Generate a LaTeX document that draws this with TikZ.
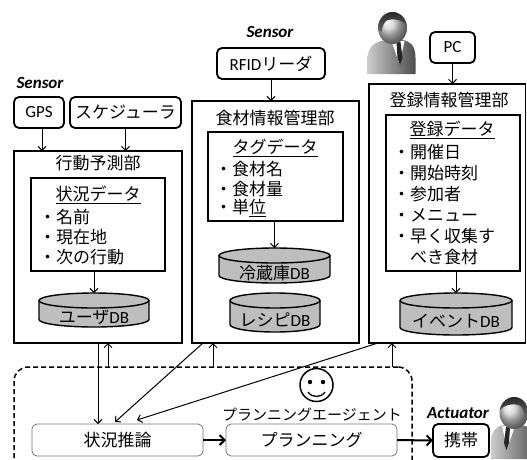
\documentclass[tikz,border=0pt]{standalone}
\usepackage{fontspec}
\setmainfont{Carlito}
\newfontfamily\jp{Noto Sans CJK JP}
\usetikzlibrary{arrows.meta}

\definecolor{dbgray}{RGB}{190,190,190}

\tikzset{
  panel/.style={draw, line width=1.8pt, inner sep=0pt, outer sep=0pt},
  devbox/.style={draw, line width=1.8pt, rounded corners=5pt, inner sep=0pt, outer sep=0pt,
    font=\fontsize{17}{17}\selectfont},
  procbox/.style={draw=black!55, line width=0.8pt, rounded corners=5pt, fill=white,
    inner sep=0pt, outer sep=0pt, font=\jp\fontsize{17}{17}\selectfont},
  agentbox/.style={draw, line width=1.5pt, dash pattern=on 5pt off 3pt, rounded corners=14pt,
    inner sep=0pt, outer sep=0pt},
  lbl/.style={inner sep=0pt, font=\jp\fontsize{17}{17}\selectfont},
  tag/.style={inner sep=0pt, font=\bfseries\itshape\fontsize{17}{17}\selectfont},
  dbfill/.style={fill=dbgray},
  dbline/.style={draw, line width=1.4pt},
  arr/.style={line width=1pt, -{Straight Barb[length=4pt, width=8pt]}},
  bigarr/.style={line width=2pt, -{Straight Barb[length=5pt, width=10pt]}},
  person/.pic={
    % suit
    \shade[left color=black!20, right color=black!70]
      (-25,46) -- (-25,30) .. controls (-25,18) and (-16,13) .. (-6,12) -- (10,12)
      .. controls (18,13) and (23,18) .. (23,30) -- (23,46) -- cycle;
    % shirt and tie
    \fill[white] (-1,13) -- (12,13) -- (7,36) -- cycle;
    \fill[black!85] (4,14) -- (8,14) -- (10,30) -- (7.5,37) -- (5,30) -- cycle;
    % face
    \shade[ball color=black!18] (0,0) ellipse[x radius=14.5, y radius=16];
    % hair
    \shade[top color=black!85, bottom color=black!60]
      (175:14.5 and 16) arc[start angle=175, end angle=350, x radius=14.5, y radius=16]
      .. controls (10,-8) and (2,-10) .. (-5,-8) .. controls (-9,-6) and (-10,-1) .. (-11,4) -- cycle;
  }
}

% database cylinder: name, centre x, top y, bottom y, half width, label
\newcommand\dbcyl[6]{%
  \pgfmathsetmacro\cylL{#2-#5}%
  \pgfmathsetmacro\cylR{#2+#5}%
  \pgfmathsetmacro\cylT{#3+7.5}%
  \pgfmathsetmacro\cylB{#4-7.5}%
  \pgfmathsetmacro\cylM{(#3+15+#4)/2}%
  \fill[dbfill] (\cylL,\cylT) -- (\cylL,\cylB)
    arc[start angle=180, end angle=0, x radius=#5, y radius=7.5] -- (\cylR,\cylT)
    arc[start angle=0, end angle=-180, x radius=#5, y radius=7.5] -- cycle;
  \draw[dbline] (\cylL,\cylT) -- (\cylL,\cylB)
    arc[start angle=180, end angle=0, x radius=#5, y radius=7.5] -- (\cylR,\cylT);
  \draw[dbline] (#2,\cylT) ellipse[x radius=#5, y radius=7.5];
  \coordinate (#1top) at (#2,#3);
  \node[lbl] (#1) at (#2,\cylM) {#6};
}

\begin{document}
\begin{tikzpicture}[x=1pt, y=-1pt]
\path[use as bounding box, clip] (0,0) rectangle (527,459);

% planning agent frame
\node[agentbox, minimum width=398pt, minimum height=113pt] (agent) at (213,423.5) {};

% ---- behaviour prediction ----
\node[tag] (sensL) at (40,83) {Sensor};
\node[devbox, minimum width=50pt, minimum height=31pt] (gps) at (39,112.5) {GPS};
\node[devbox, minimum width=111pt, minimum height=31pt, font=\jp\fontsize{17}{17}\selectfont] (sched) at (125.5,112.5) {スケジューラ};
\node[panel, minimum width=168pt, minimum height=192pt] (act) at (98,247) {};
\node[lbl] (acttitle) at (98,163) {行動予測部};
\node[panel, minimum width=134pt, minimum height=93pt] (actdata) at (98,224.5) {};
\node[lbl] (acthead) at (98,195) {\underline{状況データ}};
\node[lbl, anchor=west] (a1) at (39,217) {・名前};
\node[lbl, anchor=west] (a2) at (39,237) {・現在地};
\node[lbl, anchor=west] (a3) at (39,257) {・次の行動};
\dbcyl{udb}{94}{293}{327}{55}{ユーザ{\rmfamily DB}}

% ---- food information ----
\node[tag] (sensM) at (270,32) {Sensor};
\node[devbox, minimum width=108pt, minimum height=31pt] (rfid) at (271,63.5) {RFID{\jp リーダ}};
\node[panel, minimum width=167pt, minimum height=242pt] (food) at (275.5,222) {};
\node[lbl] (foodtitle) at (275,118) {食材情報管理部};
\node[panel, minimum width=135pt, minimum height=89pt] (tagdata) at (275.5,176.5) {};
\node[lbl] (taghead) at (275,148) {\underline{タグデータ}};
\node[lbl, anchor=west] (b1) at (215,169) {・食材名};
\node[lbl, anchor=west] (b2) at (215,189) {・食材量};
\node[lbl, anchor=west] (b3) at (215,208) {・単\underline{位}};
\dbcyl{fdb}{274.5}{248}{283}{55.5}{冷蔵庫{\rmfamily DB}}
\dbcyl{rdb}{275}{293}{332}{45}{レシピ{\rmfamily DB}}

% ---- registration information ----
\pic (organiser) at (392.5,28) {person};
\node[devbox, minimum width=45pt, minimum height=31pt] (pc) at (452.5,47.5) {PC};
\node[panel, minimum width=156.5pt, minimum height=259pt] (reg) at (447.25,213.5) {};
\node[lbl] (regtitle) at (449,100) {登録情報管理部};
\node[panel, minimum width=134pt, minimum height=156pt] (regdata) at (453,193) {};
\node[lbl] (reghead) at (452,130) {\underline{登録データ}};
\node[lbl, anchor=west] (c1) at (393,152) {・開催日};
\node[lbl, anchor=west] (c2) at (393,173) {・開始時刻};
\node[lbl, anchor=west] (c3) at (393,194) {・参加者};
\node[lbl, anchor=west] (c4) at (393,215) {・メニュー};
\node[lbl, anchor=west] (c5) at (393,236) {・早く収集す};
\node[lbl, anchor=west] (c6) at (393,257) {\phantom{・}べき食材};
\dbcyl{edb}{456}{293}{335}{56}{イベント{\rmfamily DB}}

% ---- agent ----
\node[draw, circle, line width=1.5pt, minimum size=33pt, inner sep=0pt] (smile) at (316.5,385) {};
\fill (310,382) circle[radius=2.2];
\fill (323,382) circle[radius=2.2];
\draw[line width=1.3pt] (308,392) .. controls (312,398) and (321,398) .. (325,392);
\node[lbl, font=\jp\fontsize{15}{15}\selectfont] (agentname) at (312,415) {プランニングエージェント};
\node[procbox, minimum width=171pt, minimum height=32pt] (situ) at (117.5,440) {状況推論};
\node[procbox, minimum width=171pt, minimum height=32pt] (plan) at (311.5,440) {プランニング};
\node[tag] (actu) at (458,413) {Actuator};
\node[devbox, minimum width=56pt, minimum height=33pt, font=\jp\fontsize{17}{17}\selectfont] (keitai) at (461,440.5) {携帯};
\pic[xscale=-1] (user) at (514,413) {person};

% ---- connectors ----
\draw[arr] ([xshift=3pt]gps.south) -- ([xshift=3pt]gps.south |- act.north);
\draw[arr] (sched.south) -- (sched.south |- act.north);
\draw[arr] (rfid.south) -- (rfid.south |- food.north);
\draw[arr] (pc.south) -- (pc.south |- reg.north);
\draw[arr] (actdata.south -| udbtop) -- (udbtop);
\draw[arr] (tagdata.south -| fdbtop) -- (fdbtop);
\draw[arr] (regdata.south -| edbtop) -- (edbtop);

\coordinate (up1) at (108,367);
\coordinate (up2) at (213,367);
\coordinate (up3) at (392,367);
\draw[arr] (up1) -- (up1 |- act.south);
\draw[arr] (up2) -- (up2 |- food.south);
\draw[arr] (up3) -- (up3 |- reg.south);

\draw[arr] (act.south) -- (act.south |- situ.north);
\draw[arr] ([xshift=11pt]food.south west) -- ([xshift=-2.5pt,yshift=2pt]situ.north);
\draw[arr] ([xshift=9pt]reg.south west) -- ([xshift=19.5pt,yshift=4pt]situ.north);

\draw[bigarr] (situ.east) -- (plan.west);
\draw[bigarr] (plan.east) -- (keitai.west);
\end{tikzpicture}
\end{document}
